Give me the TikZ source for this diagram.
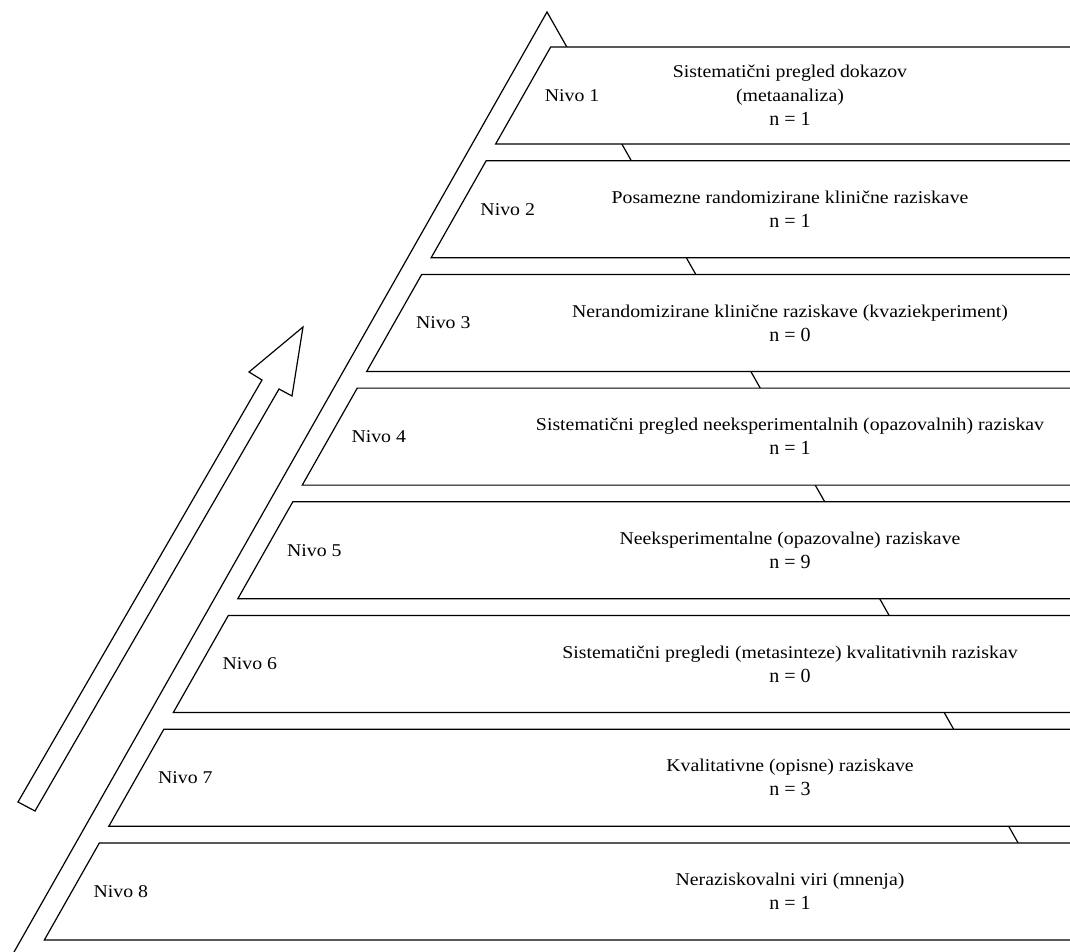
\documentclass[tikz,border=0pt]{standalone}
\usepackage{fontspec}
\setmainfont{Liberation Serif}
\newfontfamily\widefont[FakeStretch=1.1]{Liberation Serif}
\begin{document}
\begin{tikzpicture}[x=1pt,y=-1pt,line width=1.2pt,line join=miter,
  lvl/.style={font=\widefont\fontsize{18}{20}\selectfont,anchor=center,inner sep=0pt},
  body/.style={font=\widefont\fontsize{18}{24}\selectfont,align=center,anchor=center,inner sep=0pt},
  boxshape/.style={draw=black,fill=white},
  outline/.style={draw=black}]
\useasboundingbox (0,0) rectangle (1070,952);
\clip (0,0) rectangle (1070,952);
% triangle
\coordinate (apex) at (547,12);
\coordinate (baseL) at (2.7,972);
\coordinate (baseR) at (1091.3,972);
\draw[outline] (baseL) -- (apex) -- (baseR);
% hollow arrow
\coordinate (a1) at (18,802);
\coordinate (a2) at (262,380);
\coordinate (a3) at (249,372);
\coordinate (a4) at (303,327);
\coordinate (a5) at (292,396);
\coordinate (a6) at (279,389);
\coordinate (a7) at (35,811);
\draw[outline] (a1) -- (a2) -- (a3) -- (a4) -- (a5) -- (a6) -- (a7) -- cycle;
% levels
\foreach \i/\txt/\n in {
  1/{Sistematični pregled dokazov\\(metaanaliza)}/1,
  2/{Posamezne randomizirane klinične raziskave}/1,
  3/{Nerandomizirane klinične raziskave (kvaziekperiment)}/0,
  4/{Sistematični pregled neeksperimentalnih (opazovalnih) raziskav}/1,
  5/{Neeksperimentalne (opazovalne) raziskave}/9,
  6/{Sistematični pregledi (metasinteze) kvalitativnih raziskav}/0,
  7/{Kvalitativne (opisne) raziskave}/3,
  8/{Neraziskovalni viri (mnenja)}/1}{
  \pgfmathsetmacro{\top}{47+113.7*(\i-1)}
  \pgfmathsetmacro{\bot}{\top+97}
  \pgfmathsetmacro{\mid}{\top+48.5}
  \pgfmathsetmacro{\xt}{570.5-0.567*(\top-12)}
  \pgfmathsetmacro{\xb}{570.5-0.567*(\bot-12)}
  \pgfmathsetmacro{\xm}{570.5-0.567*(\mid-12)}
  \draw[boxshape] (\xt,\top) -- (1100,\top) -- (1100,\bot) -- (\xb,\bot) -- cycle;
  \node[lvl] (nivo\i) at (\xm+49,\mid) {Nivo \i};
  \node[body] (txt\i) at (790,\mid) {\txt\\{\normalfont\fontsize{20}{24}\selectfont n = \n}};
}
\end{tikzpicture}
\end{document}
